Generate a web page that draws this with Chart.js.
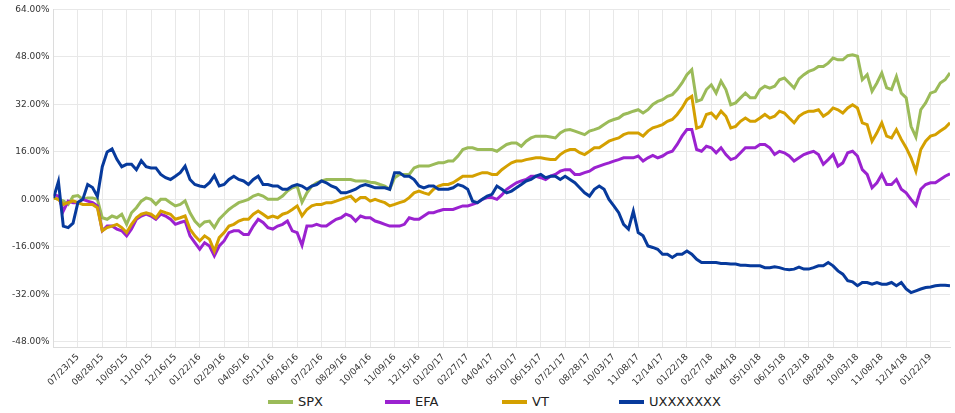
<!DOCTYPE html>
<html>
<head>
<meta charset="utf-8">
<script src="https://cdn.jsdelivr.net/npm/chart.js@4.4.1/dist/chart.umd.min.js"></script>
<style>
  html, body { margin:0; padding:0; background:#fff; }
  #wrap { position:relative; width:955px; height:413px; font-family:'DejaVu Sans', sans-serif; }
  #chart-box { position:absolute; left:0; top:0; width:955px; height:392px; }
  #legend { position:absolute; left:268px; top:394px; display:flex; }
  .lg-item { width:117px; display:flex; align-items:center; font-size:13px; color:#222; line-height:16px; }
  .lg-swatch { width:25px; height:4px; margin-right:5px; }
</style>
</head>
<body>
<div id="wrap">
  <div id="chart-box"><canvas id="chart"></canvas></div>
  <div id="legend"></div>
</div>
<script>
'use strict';

// one value every 5 trading days, cumulative return in %
const tickLabels = ['07/23/15','08/28/15','10/05/15','11/10/15','12/16/15','01/22/16','02/29/16','04/05/16',
  '05/11/16','06/16/16','07/22/16','08/29/16','10/04/16','11/09/16','12/15/16','01/20/17','02/27/17','04/04/17',
  '05/10/17','06/15/17','07/21/17','08/28/17','10/03/17','11/08/17','12/14/17','01/22/18','02/27/18','04/04/18',
  '05/10/18','06/15/18','07/23/18','08/28/18','10/03/18','11/08/18','12/14/18','01/22/19'];
const FIRST_TICK = 5;   // point index of the first date label
const TICK_STEP = 5;    // points between two labels
const yTicks = [-48, -32, -16, 0, 16, 32, 48, 64];

const seriesNames = ['SPX', 'EFA', 'VT', 'UXXXXXXX'];
const seriesColors = ['#9bbb59', '#9b22d0', '#d4a000', '#073a9c'];

const spx = [
  0.5, 0, -0.5, -1.7, 1, 1.3, 0, 0.5, 0.5, 0,
  -6.2, -6.7, -5.6, -6.2, -5, -8.4, -4.5, -2.8, -0.6, 0.5,
  0, -1.7, 0, 0, -1.1, -2.2, -1.7, -0.5, -4.5, -7.3,
  -9, -7.6, -7.3, -9.5, -6.7, -5, -3.4, -2.2, -1.1, -0.6,
  0, 1.1, 1.7, 1.1, 0, 0, 0, 1.1, 2.8, 3.9,
  4.5, -1, 2.2, 4.5, 5.6, 6.2, 6.7, 6.7, 6.7, 6.7,
  6.7, 6.7, 6.2, 6.2, 6.2, 5.8, 5.6, 5, 4.5, 3.4,
  7.3, 8.4, 8.4, 8.4, 10.6, 11.2, 11.2, 11.2, 11.8, 12.3,
  12.3, 12.9, 12.9, 14.6, 16.8, 17.4, 17.4, 16.8, 16.8, 16.8,
  16.8, 16.2, 17.4, 18.5, 19, 19, 17.9, 19.6, 20.7, 21.3,
  21.3, 21.3, 21, 20.7, 22.4, 23.3, 23.5, 23, 22.4, 21.8,
  23, 23.5, 24.1, 25.2, 26.3, 26.9, 27.4, 28.6, 29.1, 29.7,
  30.2, 29.1, 30.2, 32, 33, 33.6, 34.7, 35.3, 37, 39.2,
  42, 43.7, 33, 33.6, 37, 38.6, 35.8, 39.8, 37, 31.9,
  32.5, 34.2, 35.8, 34.2, 34.2, 37, 38.1, 37.5, 38.1, 40.3,
  40.9, 39.2, 37.5, 40.6, 42, 43.1, 43.7, 44.8, 44.8, 45.9,
  47.6, 47, 47, 48.4, 48.7, 48.2, 40.3, 42, 36.4, 39.2,
  42.6, 37.6, 37, 41.4, 35.8, 34.2, 24.6, 21, 30.2, 32.5,
  35.8, 36.4, 39.2, 40.3, 42.6
];

const efa = [
  1.7, 1.1, -3.9, -0.6, -1.1, -1.1, 0, -0.6, -1.1, -2.2,
  -10.6, -9, -9, -10, -10.6, -12.3, -10, -6.7, -5.6, -5,
  -5.6, -6.7, -5, -5.6, -6.7, -8.4, -7.8, -7.3, -12.3, -14.6,
  -16.8, -14.6, -15.7, -19, -15.7, -14, -11.2, -10.6, -10.6, -11.8,
  -11.8, -9, -6.7, -7.8, -9.5, -10, -9, -8.4, -7.3, -10.6,
  -11.2, -15.5, -9, -9, -8.4, -9, -9, -7.8, -6.7, -6.2,
  -5, -5.6, -7.3, -5.6, -6.2, -6.2, -7.3, -7.8, -8.4, -9,
  -9, -9, -8.4, -6.2, -6.7, -6.7, -5.6, -4.5, -4.5, -3.9,
  -3.4, -3.4, -3.4, -2.8, -2.2, -2.2, -1.7, -1.1, 0, 0.6,
  0.6, 0, 1.5, 3.4, 4.5, 5.6, 6.2, 6.7, 7.8, 7.8,
  7.3, 6.7, 7.8, 8.4, 9.5, 10, 10, 8.4, 8.4, 9,
  9.5, 10.6, 11.2, 11.8, 12.3, 12.9, 13.4, 14, 14, 14,
  14.6, 12.9, 14, 14.8, 14, 14.6, 15.7, 16.2, 18.5, 21.3,
  23.5, 23.5, 16.8, 16.2, 17.9, 17.4, 15.7, 17.4, 15.1, 13.4,
  14, 15.7, 17.4, 17.4, 17.4, 18.5, 18.5, 17.4, 15.1, 16.2,
  15.7, 14.6, 12.9, 14, 15.1, 15.7, 16.2, 15.1, 11.8, 13.4,
  15.1, 11.2, 12.3, 15.7, 16.2, 14.6, 10, 8.4, 3.9, 5.6,
  8.4, 5, 5, 6.7, 3.4, 2.2, 0, -2, 3.4, 5,
  5.6, 5.6, 6.7, 7.8, 8.6
];

const vt = [
  0.5, 0, -1.7, -1.1, -0.5, -1.1, -1.7, -1.7, -1.7, -2.8,
  -10.6, -9.5, -9, -8.4, -9.5, -11.2, -8.4, -6.2, -5, -4.5,
  -5, -6.2, -3.9, -4.5, -5, -6.7, -6.2, -5.6, -10, -12.3,
  -14, -12.3, -13.4, -17.4, -12.9, -11.2, -9, -8.4, -7.3, -6.7,
  -6.7, -5, -3.9, -5, -6.2, -5.6, -6.2, -5, -4.5, -3.4,
  -2.2, -5.6, -3.4, -2.2, -1.7, -1.7, -1.1, -1.1, -0.6, 0,
  0.6, 1.1, -0.6, 0.6, 0.6, -0.6, 0, -0.6, -1.1, -2.2,
  -1.7, -1.1, -0.6, 0.6, 2.2, 2.8, 2.2, 1.7, 3.4, 4.5,
  5, 5, 5.6, 6.7, 7.8, 7.8, 7.8, 8.4, 9, 9,
  8.4, 8.4, 10, 11.2, 12.3, 12.9, 12.9, 13.4, 13.7, 14,
  14, 13.7, 13.4, 13.4, 15.1, 16.2, 16.8, 16.8, 15.7, 15.1,
  16.2, 17.4, 17.4, 18.5, 19.6, 20.2, 20.7, 21.8, 22.4, 22.4,
  22.4, 21.3, 23, 24.1, 24.6, 25.2, 26.3, 26.9, 28.6, 30.8,
  33.6, 34.7, 24, 24.6, 28.6, 29.1, 27.4, 29.7, 28, 24.1,
  24.6, 26.3, 27.4, 26.3, 26.3, 27.4, 28.6, 27.4, 28, 29.7,
  29.1, 27.4, 25.8, 28, 29.1, 29.7, 29.7, 30.2, 28, 29.1,
  30.8, 30.2, 29.1, 30.8, 31.9, 30.8, 25.8, 25.2, 19.6, 22.4,
  25.8, 21.3, 20.7, 23.5, 20.2, 17.4, 14, 9.5, 16.8, 19.6,
  21.3, 21.8, 23, 24.1, 25.8
];

const uxx = [
  0.5, 6, -9, -9.5, -8, -1, 0, 5, 4, 1,
  11, 16, 17, 13.5, 11, 11.8, 11.8, 10, 13, 11,
  10.6, 10.6, 8.4, 7.3, 6.7, 7.8, 9, 11.2, 6.7, 5,
  4.5, 4.2, 5.6, 8, 4.5, 5, 6.7, 7.8, 6.7, 6.2,
  5, 6.7, 7.8, 5, 5, 4.5, 4.5, 3.4, 3.4, 4.5,
  5, 4.5, 3.4, 4.5, 5, 6.2, 5.6, 4.5, 3.9, 2.2,
  2.2, 2.8, 3.4, 4.5, 5, 4.5, 3.9, 3.9, 3.9, 3.4,
  9, 9, 7.8, 7.8, 6.7, 4.5, 3.9, 4.5, 4.5, 3.4,
  3.4, 3.4, 3.9, 5, 4.5, 3.4, -0.6, -1.1, 0, 1.1,
  1.7, 4.5, 3.4, 2.2, 2.8, 3.9, 5, 6.2, 6.7, 7.8,
  8.4, 7.3, 7.8, 7.8, 6.7, 7.8, 6.7, 5.6, 3.9, 2.2,
  1.1, 3.4, 4.5, 3.4, 0, -2.2, -4.5, -8.4, -10, -4,
  -11.2, -12.3, -15.7, -16.2, -16.8, -18.5, -18.5, -19.6, -18.5, -18.5,
  -17.4, -18.5, -20.2, -21.3, -21.3, -21.3, -21.3, -21.6, -21.6, -21.8,
  -21.8, -22.2, -22.2, -22.4, -22.4, -22.4, -23, -23, -22.7, -23,
  -23.5, -23.7, -23.5, -22.8, -23.5, -23.5, -23, -22.4, -22.4, -21.3,
  -22.4, -24.1, -25.2, -27.4, -27.8, -29.1, -28, -28, -28.6, -28,
  -28.6, -28.6, -28, -29.1, -28, -30.2, -31.4, -30.8, -30.2, -29.7,
  -29.5, -29.1, -28.9, -28.9, -29.1
];

const allSeries = [spx, efa, vt, uxx];
const tickFont = { family: "'DejaVu Sans', sans-serif", size: 9 };

const datasets = allSeries.map((vals, i) => ({
  label: seriesNames[i],
  data: vals.map((v, j) => ({ x: j, y: v })),
  borderColor: seriesColors[i],
  backgroundColor: seriesColors[i],
  borderWidth: 3,
  pointRadius: 0,
  tension: 0,
  fill: false,
  order: allSeries.length - i,   // last series drawn on top
}));

new Chart(document.getElementById('chart'), {
  type: 'line',
  data: { datasets },
  options: {
    responsive: true,
    maintainAspectRatio: false,
    animation: false,
    layout: { padding: { left: 8, right: 5, top: 0, bottom: 0 } },
    plugins: { legend: { display: false }, tooltip: { enabled: false } },
    scales: {
      x: {
        type: 'linear',
        min: 0,
        max: spx.length - 1,
        afterBuildTicks: axis => { axis.ticks = tickLabels.map((t, i) => ({ value: FIRST_TICK + i * TICK_STEP })); },
        ticks: {
          callback: (v, i) => tickLabels[i],
          autoSkip: false, minRotation: 45, maxRotation: 45,
          font: tickFont, color: '#333', padding: 4,
        },
        grid: { color: '#e8e8e8', drawTicks: false },
        border: { color: '#dcdcdc' },
      },
      y: {
        min: -50,
        max: 64,
        afterBuildTicks: axis => { axis.ticks = yTicks.map(v => ({ value: v })); },
        ticks: { callback: v => v.toFixed(2) + '%', font: tickFont, color: '#333', padding: 4 },
        grid: { color: '#e8e8e8', drawTicks: false },
        border: { color: '#dcdcdc' },
      },
    },
  },
});

// legend row under the chart, fixed-width cells
document.getElementById('legend').innerHTML = seriesNames.map((n, i) => `
  <div class="lg-item"><span class="lg-swatch" style="background:${seriesColors[i]}"></span>${n}</div>`).join('');
</script>
</body>
</html>
